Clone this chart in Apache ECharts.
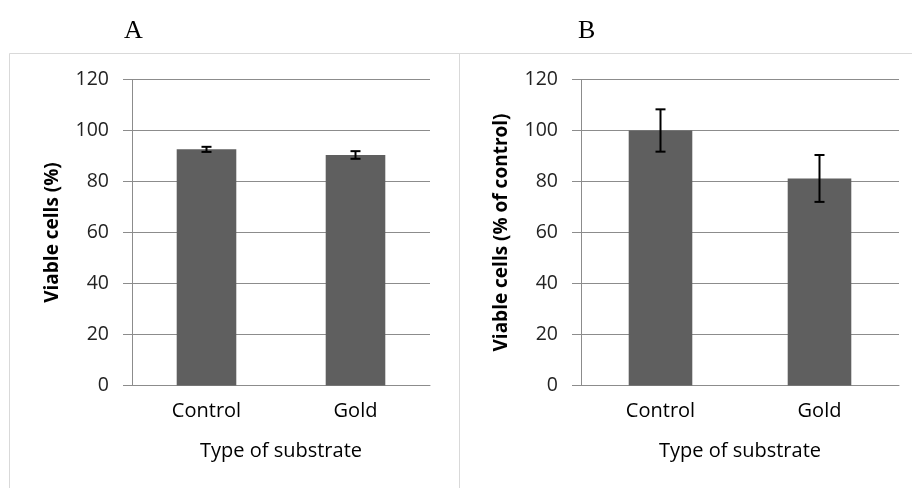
<!DOCTYPE html>
<html>
<head>
<meta charset="utf-8">
<script src="https://cdn.jsdelivr.net/npm/echarts@6/dist/echarts.min.js"></script>
<style>html,body{margin:0;padding:0;background:#fff;}#c{width:912px;height:488px;}</style>
</head>
<body>
<div id="c"></div>
<script>
const categories = ['Control', 'Gold'];
const viableA = [92.6, 90.4];
const errorA = [1.0, 1.5];
const viableB = [100, 81.2];
const errorB = [8.3, 9.2];
const yMin = 0, yMax = 120, yStep = 20;
const panelTitles = ['A', 'B'];
const yNames = ['Viable cells (%)', 'Viable cells (% of control)'];
const xName = 'Type of substrate';

const chart = echarts.init(document.getElementById('c'), null, {renderer: 'canvas'});
const barColor = '#5f5f5f';
const gridColor = '#8c8c8c';
const textFont = 'Open Sans';

function xAxisCfg(i) {
  return {
    type: 'category', gridIndex: i, data: categories,
    axisLine: {lineStyle: {color: gridColor, width: 1}},
    axisTick: {show: false},
    axisLabel: {fontFamily: textFont, fontSize: 20, color: '#000', margin: 16},
    name: xName, nameLocation: 'middle', nameGap: 56,
    nameTextStyle: {fontFamily: textFont, fontSize: 20, color: '#000'}
  };
}
function yAxisCfg(i) {
  return {
    type: 'value', gridIndex: i, min: yMin, max: yMax, interval: yStep,
    axisLine: {show: true, lineStyle: {color: gridColor, width: 1}},
    axisTick: {show: true, length: 9, lineStyle: {color: gridColor}},
    axisLabel: {fontFamily: textFont, fontSize: 19.5, color: '#222', margin: 23},
    splitLine: {lineStyle: {color: gridColor, width: 1}},
    name: yNames[i], nameLocation: 'middle', nameGap: i === 0 ? 70 : 70,
    nameTextStyle: {fontFamily: textFont, fontSize: 19, fontWeight: 'bold', color: '#000'}
  };
}
function errSeries(i, vals, errs) {
  return {
    type: 'custom', xAxisIndex: i, yAxisIndex: i, z: 10,
    data: vals.map((v, k) => [k, v - errs[k], v + errs[k]]),
    renderItem: function (params, api) {
      const x = api.value(0);
      const lo = api.coord([x, api.value(1)]);
      const hi = api.coord([x, api.value(2)]);
      const hw = 5;
      const st = {stroke: '#000', lineWidth: 2};
      return {type: 'group', children: [
        {type: 'line', shape: {x1: lo[0], y1: lo[1], x2: hi[0], y2: hi[1]}, style: st},
        {type: 'line', shape: {x1: lo[0] - hw, y1: lo[1], x2: lo[0] + hw, y2: lo[1]}, style: st},
        {type: 'line', shape: {x1: hi[0] - hw, y1: hi[1], x2: hi[0] + hw, y2: hi[1]}, style: st}
      ]};
    }
  };
}

chart.setOption({
  animation: false,
  backgroundColor: '#fff',
  title: [
    {text: panelTitles[0], left: 119, top: 13,
     textStyle: {fontFamily: 'Liberation Serif', fontSize: 26, fontWeight: 'normal', color: '#000'}},
    {text: panelTitles[1], left: 573, top: 13,
     textStyle: {fontFamily: 'Liberation Serif', fontSize: 26, fontWeight: 'normal', color: '#000'}}
  ],
  graphic: [
    {type: 'rect', shape: {x: 9.5, y: 53.5, width: 450, height: 440}, style: {fill: 'none', stroke: '#d9d9d9', lineWidth: 1}, z: -1},
    {type: 'rect', shape: {x: 459.5, y: 53.5, width: 460, height: 440}, style: {fill: 'none', stroke: '#d9d9d9', lineWidth: 1}, z: -1}
  ],
  grid: [
    {left: 132, right: 482, top: 79.5, bottom: 102.5},
    {left: 581, right: 13, top: 79.5, bottom: 102.5}
  ],
  xAxis: [xAxisCfg(0), xAxisCfg(1)],
  yAxis: [yAxisCfg(0), yAxisCfg(1)],
  series: [
    {type: 'bar', xAxisIndex: 0, yAxisIndex: 0, data: viableA, barWidth: '40%', itemStyle: {color: barColor}},
    {type: 'bar', xAxisIndex: 1, yAxisIndex: 1, data: viableB, barWidth: '40%', itemStyle: {color: barColor}},
    errSeries(0, viableA, errorA),
    errSeries(1, viableB, errorB)
  ]
});
</script>
</body>
</html>
